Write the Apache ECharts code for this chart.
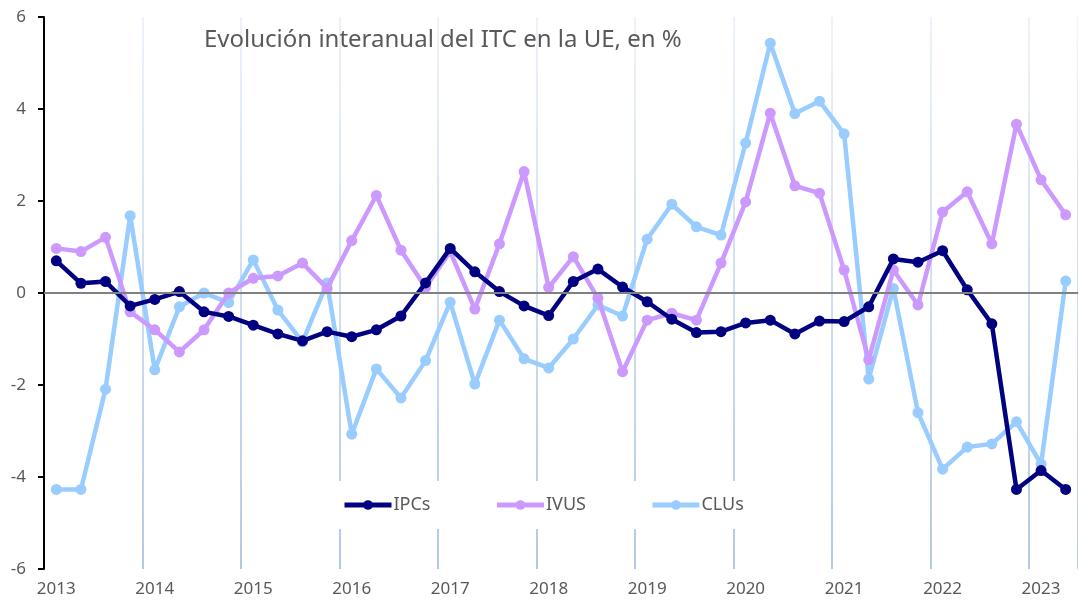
<!DOCTYPE html>
<html>
<head>
<meta charset="utf-8">
<script src="https://cdn.jsdelivr.net/npm/echarts@6/dist/echarts.min.js"></script>
<style>html,body{margin:0;padding:0;background:#fff;}#c{width:1078px;height:603px;}</style>
</head>
<body>
<div id="c"></div>
<script>
// Quarterly categories 2013 T1 ... 2023 T2
const years = ['2013','2014','2015','2016','2017','2018','2019','2020','2021','2022','2023'];
const quarters = [];
years.forEach(y => { for (let q = 1; q <= 4; q++) quarters.push(y + '-T' + q); });
const categories = quarters.slice(0, 42);

const titleText = 'Evolución interanual del ITC en la UE, en %';
const seriesNames = ['IPCs', 'IVUS', 'CLUs'];

const ipcs = [0.70,0.21,0.25,-0.28,-0.14,0.03,-0.41,-0.51,-0.70,-0.89,-1.04,-0.84,-0.95,-0.80,-0.50,0.22,0.97,0.46,0.03,-0.28,-0.49,0.25,0.52,0.13,-0.19,-0.57,-0.86,-0.84,-0.65,-0.59,-0.89,-0.61,-0.62,-0.30,0.74,0.67,0.92,0.07,-0.67,-4.27,-3.86,-4.27];
const ivus = [0.97,0.90,1.21,-0.41,-0.80,-1.28,-0.80,0.00,0.32,0.37,0.65,0.10,1.14,2.12,0.93,0.12,0.90,-0.35,1.07,2.64,0.12,0.79,-0.11,-1.71,-0.59,-0.44,-0.59,0.65,1.98,3.91,2.33,2.17,0.50,-1.45,0.50,-0.26,1.76,2.20,1.07,3.67,2.46,1.70];
const clus = [-4.27,-4.27,-2.09,1.68,-1.67,-0.30,0.00,-0.21,0.72,-0.37,-1.06,0.22,-3.07,-1.65,-2.28,-1.47,-0.20,-1.98,-0.59,-1.43,-1.63,-1.00,-0.26,-0.50,1.17,1.93,1.44,1.26,3.26,5.43,3.90,4.17,3.46,-1.87,0.10,-2.60,-3.83,-3.35,-3.28,-2.80,-3.72,0.26];

const yTicks = { min: -6, max: 6, interval: 2 };
const colors = ['#000080', '#CC99FF', '#99CCFF'];

const chart = echarts.init(document.getElementById('c'), null, { renderer: 'canvas' });
const gridTop = 17, gridBottom = 34;

function lineSeries(name, data, color, z) {
  return {
    name: name, type: 'line', data: data, z: z,
    symbol: 'circle', symbolSize: 11,
    lineStyle: { color: color, width: 4.5 },
    itemStyle: { color: color },
    emphasis: { disabled: true },
    animation: false
  };
}

chart.setOption({
  animation: false,
  backgroundColor: '#ffffff',
  title: {
    text: titleText, left: 199, top: 23,
    textStyle: { fontFamily: "'Noto Sans', sans-serif", fontSize: 24, fontWeight: 'normal', color: '#595959' }
  },
  legend: {
    data: seriesNames,
    left: 338, top: 481,
    padding: [15, 6, 15, 4],
    backgroundColor: '#ffffff',
    itemWidth: 47, itemHeight: 12, itemGap: 64,
    lineStyle: { width: 5 },
    textStyle: { fontFamily: "'Noto Sans', sans-serif", fontSize: 18, color: '#595959', padding: [0, 0, 0, -3] },
    selectedMode: false
  },
  grid: { left: 44, right: -1, top: gridTop, bottom: gridBottom, containLabel: false },
  xAxis: {
    type: 'category', data: categories, boundaryGap: true,
    axisLine: { show: false },
    axisTick: { show: false },
    axisLabel: {
      interval: 3, margin: 12,
      fontFamily: "'Noto Sans', sans-serif", fontSize: 17, color: '#595959',
      formatter: v => v.split('-')[0]
    },
    splitLine: {
      show: true,
      interval: (i) => i > 0 && i % 4 === 0,
      lineStyle: {
        width: 2,
        color: new echarts.graphic.LinearGradient(0, gridTop, 0, 603 - gridBottom, [
          { offset: 0, color: '#eef3f9' },
          { offset: 1, color: '#b3c9e3' }
        ], true)
      }
    }
  },
  yAxis: {
    type: 'value', min: yTicks.min, max: yTicks.max, interval: yTicks.interval,
    axisLine: { show: true, lineStyle: { color: '#000000', width: 2 } },
    axisTick: { show: true, length: 6, lineStyle: { color: '#000000', width: 2 } },
    axisLabel: { margin: 18, fontFamily: "'Noto Sans', sans-serif", fontSize: 17, color: '#595959' },
    splitLine: { show: false }
  },
  series: [
    {
      type: 'line', data: [], z: 1, silent: true,
      markLine: {
        silent: true, symbol: 'none', label: { show: false },
        lineStyle: { color: '#808080', width: 2, type: 'solid' },
        data: [{ yAxis: 0 }], animation: false
      }
    },
    lineSeries(seriesNames[0], ipcs, colors[0], 4),
    lineSeries(seriesNames[1], ivus, colors[1], 3),
    lineSeries(seriesNames[2], clus, colors[2], 2)
  ]
});
</script>
</body>
</html>
